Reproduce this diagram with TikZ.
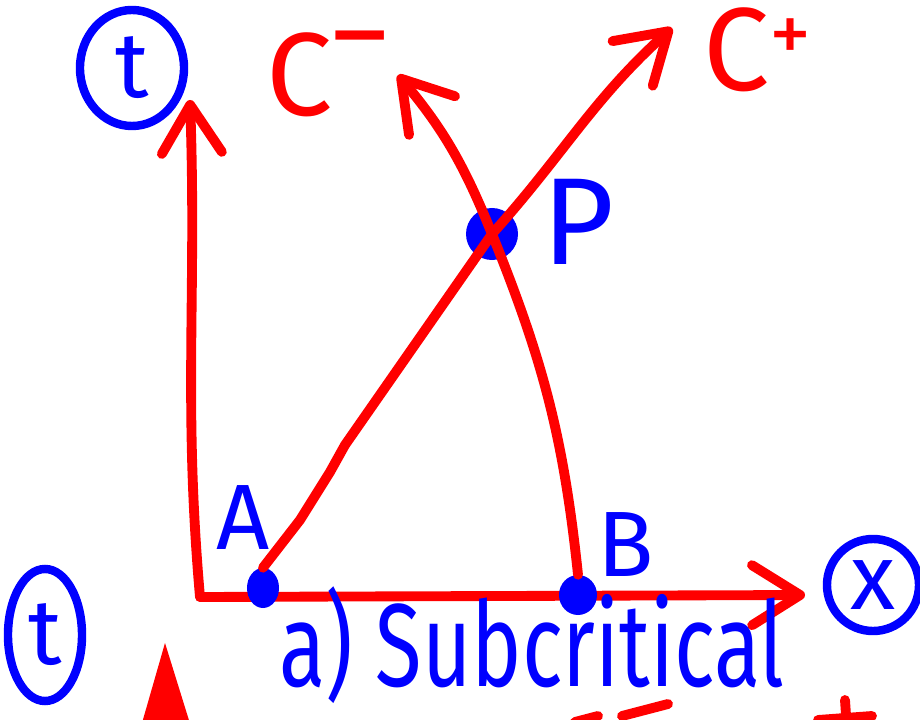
\documentclass[tikz,border=0pt]{standalone}
\usepackage{fontspec}
\setmainfont{Fira Sans}
\usepackage{graphicx}
\usetikzlibrary{arrows.meta,positioning,shapes.geometric,calc}
\definecolor{inkred}{RGB}{255,0,0}
\definecolor{inkblue}{RGB}{0,0,255}

\begin{document}
\begin{tikzpicture}[
  x=0.025cm, y=-0.025cm,
  every node/.style={font=\fontsize{66}{66}\selectfont},
  redline/.style={draw=inkred, line width=7pt, line cap=round, line join=round},
  barb/.style={-{Straight Barb[length=1.2cm, width=1.5cm, line width=7pt, line cap=round, line join=round]}},
  dot/.style={ellipse, fill=inkblue, inner sep=0pt},
  ring/.style={ellipse, draw=inkblue, line width=6pt, inner sep=0pt, text=inkblue},
  bluelbl/.style={text=inkblue, inner sep=0pt},
  redlbl/.style={text=inkred, inner sep=0pt, font=\fontsize{84}{84}\selectfont}
]
\useasboundingbox (0,0) rectangle (920,720);
\clip (0,0) rectangle (920,720);

% axes
\coordinate (O) at (200,597);
\coordinate (ttip) at (190,100);
\coordinate (xtip) at (805,595);
\node[ring, minimum width=2.6cm, minimum height=2.9cm] (tring) at (132,68) {t};
\node[ring, minimum width=2.3cm, minimum height=2.3cm] (xring) at (873,585) {x};
\draw[redline, barb] (O) to[out=95,in=-88] (ttip);
\draw[redline, barb] (O) -- (xtip);

% points
\node[dot, minimum width=0.8cm, minimum height=1cm] (A) at (263,588) {};
\node[dot, minimum width=0.95cm, minimum height=1cm] (B) at (578,595) {};
\node[dot, minimum size=1.3cm] (P) at (492,234) {};
\node[bluelbl] (Alab) at (243,518) {A};
\node[bluelbl] (Blab) at (626,545) {B};
\node[bluelbl, font=\fontsize{88}{88}\selectfont] (Plab) at (578,222) {P};

% characteristics
\coordinate (cptip) at (672,28);
\coordinate (cmtip) at (398,75);
\draw[redline] (A.north) -- (300,520) -- (330,472) -- (345,445) -- (P.center);
\draw[redline, barb] (P.center) to[out=48,in=-138] (cptip);
\draw[redline] (B.north) to[out=96,in=-68] (P.center);
\draw[redline, barb] (P.center) to[out=112,in=-50] (cmtip);
\node[redlbl, anchor=west] (cm) at (266,74) {C\raisebox{0.36em}{\scalebox{0.9}[1]{–}}};
\node[redlbl, anchor=west] (cp) at (703,50) {C\raisebox{0.24em}{\fontsize{60}{60}\selectfont +}};

% caption
\node[bluelbl, font=\fontsize{84}{84}\selectfont] (cap) at (532,645) {\scalebox{0.72}[1]{a) Subcritical}};

% next sketch (cut off)
\node[ring, minimum width=1.85cm, minimum height=3.3cm] (tring2) at (45,635) {t};
\coordinate (t2tip) at (165,643);
\fill[inkred] (t2tip) -- (140,730) -- (192,730) -- cycle;
\draw[redline] (575,722) -- (598,716);
\draw[redline] (622,716) -- (668,704);
\draw[redline] (845,700) -- (847,730);
\draw[redline] (818,720) -- (872,716);
\end{tikzpicture}
\end{document}
